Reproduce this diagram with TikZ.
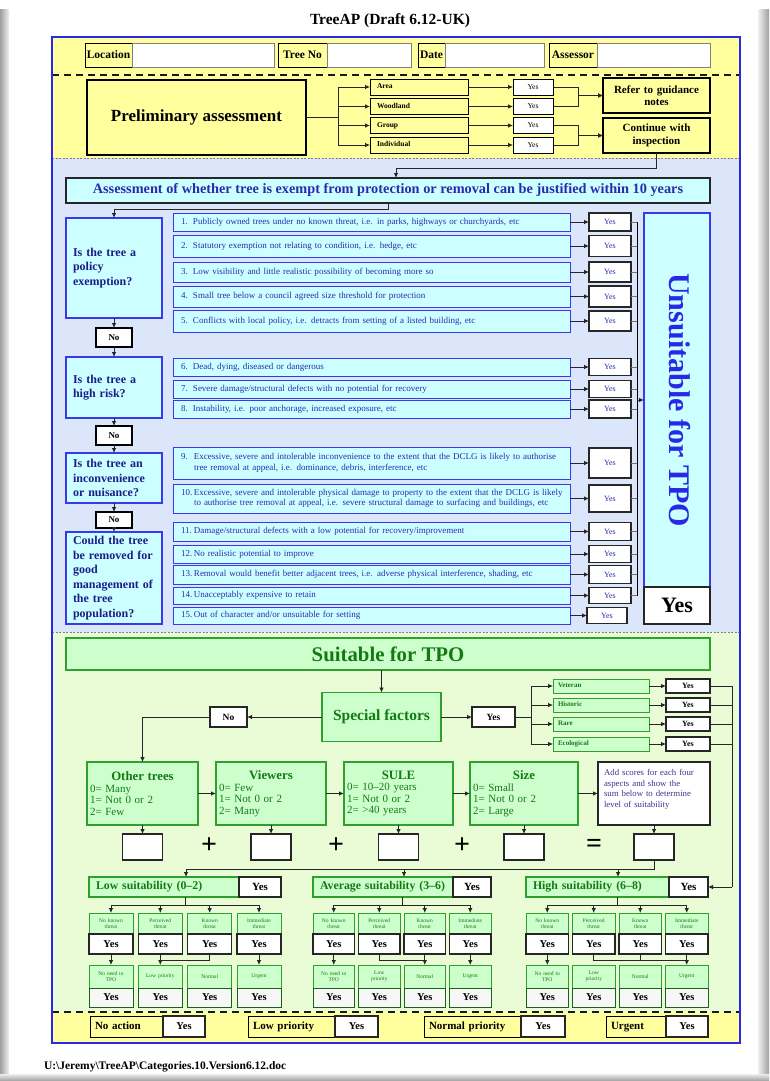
\documentclass[tikz,border=0pt]{standalone}
\usepackage{fontspec}
\setmainfont{Liberation Serif}
\usetikzlibrary{arrows.meta}
\definecolor{paleyellow}{HTML}{FFFF9E}
\definecolor{paleblue}{HTML}{DCE6FA}
\definecolor{palegreen}{HTML}{E9FCD6}
\definecolor{cyanfill}{HTML}{CCFFFF}
\definecolor{greenfill}{HTML}{CCFFCC}
\definecolor{greenedge}{HTML}{2EA02E}
\definecolor{greentext}{HTML}{137A13}
\definecolor{itemedge}{HTML}{3838F0}
\definecolor{itemtext}{HTML}{2A2AB0}
\definecolor{qtext}{HTML}{1C1C8A}
\definecolor{frameblue}{HTML}{2828E6}
\definecolor{notetext}{HTML}{45308F}
\newcommand\setfs[2]{\fontsize{#1}{#2}\selectfont}

\begin{document}
\begin{tikzpicture}[x=1pt,y=-1pt,
  every node/.style={inner sep=0pt,outer sep=0pt},
  link/.style={draw=black!85,line width=0.8pt},
  arr/.style={link,-{Latex[length=5pt,width=4.5pt]}},
  hlabel/.style={draw=black,line width=1pt,fill=paleyellow,minimum height=24pt,text height=8pt,text depth=2.5pt,font=\bfseries\setfs{11.5}{13}},
  hinput/.style={draw=black!50,line width=1pt,fill=white,minimum height=24pt},
  prebox/.style={draw=black,line width=1.2pt,fill=paleyellow},
  catbox/.style={draw=black,line width=1pt,fill=paleyellow,minimum height=16pt,text width=84pt,text height=5.5pt,text depth=1.8pt,inner xsep=7pt,align=left,font=\bfseries\setfs{7.5}{9}},
  pyes/.style={draw=black,line width=1pt,fill=white,minimum width=40pt,minimum height=16pt,font=\setfs{7.5}{9}},
  qbox/.style={draw=itemedge,line width=1.2pt,fill=cyanfill,text width=82pt,inner xsep=7pt,align=left,font=\bfseries\setfs{12}{14.5},text=qtext},
  itembox/.style={draw=itemedge,line width=1pt,fill=cyanfill,text width=381pt,inner xsep=8pt,align=left,font=\setfs{9}{10.5},text=itemtext},
  eyes/.style={draw=black!85,line width=1.1pt,fill=white,minimum width=42pt,font=\setfs{8}{9},text=itemtext},
  nobox/.style={draw=black,line width=1.1pt,fill=white,minimum width=36pt,font=\bfseries\setfs{9}{10}},
  gbox/.style={draw=greenedge,line width=1pt,fill=greenfill,text=greentext},
  wbox/.style={draw=black!85,line width=1.1pt,fill=white},
  scorebox/.style={gbox,line width=1.3pt,minimum height=63pt,inner xsep=3pt,align=left,font=\setfs{11}{11.5}},
  sfbox/.style={gbox,minimum height=14pt,text width=86pt,text height=5pt,text depth=1.6pt,inner xsep=5pt,align=left,font=\bfseries\setfs{7}{8}},
  glabel/.style={gbox,line width=1.2pt,minimum height=20pt,text height=8.5pt,text depth=2.8pt,inner xsep=7pt,align=left,font=\bfseries\setfs{11.8}{13}},
  tbox/.style={gbox,minimum width=#1,text width=#1,minimum height=21pt,align=center,font=\setfs{5.5}{6.5}},
  abox/.style={gbox,minimum width=#1,text width=#1,minimum height=23pt,align=center,font=\setfs{5.5}{6.5}},
  ybox/.style={wbox,minimum width=#1,minimum height=20pt,font=\bfseries\setfs{10.5}{11}},
  zbox/.style={draw=greenedge!60!black,line width=1pt,fill=gray!6,minimum width=#1,minimum height=19pt,font=\bfseries\setfs{10.5}{11}},
  flabel/.style={draw=black,line width=1pt,fill=paleyellow,minimum height=21pt,text height=7.8pt,text depth=2.5pt,inner xsep=5pt,align=left,font=\bfseries\setfs{11}{12}},
  fyes/.style={wbox,minimum height=21pt,text height=7.5pt,text depth=2.2pt,font=\bfseries\setfs{10.5}{11}}
]
\useasboundingbox (0,0) rectangle (769,1081);

% page and its shadow
\fill[white] (0,0) rectangle (769,1081);
\shade[left color=gray!75,right color=gray!12] (0,10) rectangle (9,1081);
\shade[left color=gray!12,right color=gray!75] (758,10) rectangle (769,1081);
\shade[top color=gray!15,bottom color=gray!75] (0,1074) rectangle (769,1081);

\node[font=\bfseries\setfs{15.5}{18}] (title) at (390,21) {TreeAP (Draft 6.12-UK)};

% form sections
\fill[paleyellow] (52,37) rectangle (740,158);
\fill[paleblue] (52,158) rectangle (740,632);
\fill[palegreen] (52,632) rectangle (740,1012);
\fill[paleyellow] (52,1012) rectangle (740,1043);
\draw[gray,line width=0.8pt,dash pattern=on 2pt off 1.5pt] (52,158) -- (740,158);
\draw[gray,line width=0.8pt,dash pattern=on 2pt off 1.5pt] (52,632) -- (740,632);
\draw[black!90,line width=1.8pt,dash pattern=on 7pt off 5pt] (52,75) -- (740,75);
\draw[black!90,line width=1.8pt,dash pattern=on 7pt off 5pt] (52,1012) -- (740,1012);
\draw[frameblue,line width=1.6pt] (52,37) rectangle (740,1043);

% header fields
\node[hlabel,minimum width=47pt] (loc) at (108.5,55.5) {Location};
\node[hinput,minimum width=142pt] (locin) at (203,55.5) {};
\node[hlabel,minimum width=49pt] (tno) at (302.5,55.5) {Tree No};
\node[hinput,minimum width=84pt] (tnoin) at (369,55.5) {};
\node[hlabel,minimum width=27pt] (dat) at (431.5,55.5) {Date};
\node[hinput,minimum width=99pt] (datin) at (494.5,55.5) {};
\node[hlabel,minimum width=48pt] (asr) at (573,55.5) {Assessor};
\node[hinput,minimum width=113pt] (asrin) at (653.5,55.5) {};

% preliminary assessment
\node[prebox,minimum width=219pt,minimum height=75pt,font=\bfseries\setfs{17}{19}] (pre) at (196.5,117.5) {Preliminary assessment};
\node[catbox] (area) at (419,87) {Area};
\node[catbox] (wood) at (419,106.5) {Woodland};
\node[catbox] (group) at (419,125.5) {Group};
\node[catbox] (indiv) at (419,145) {Individual};
\node[pyes] (ya) at (533,87) {Yes};
\node[pyes] (yb) at (533,106.5) {Yes};
\node[pyes] (yc) at (533,125.5) {Yes};
\node[pyes] (yd) at (533,145) {Yes};
\node[prebox,minimum width=107pt,minimum height=35pt,text width=99pt,align=center,font=\bfseries\setfs{11}{12.5}] (refer) at (656.5,95.5) {Refer to guidance\\notes};
\node[prebox,minimum width=107pt,minimum height=35pt,text width=99pt,align=center,font=\bfseries\setfs{11}{12.5}] (cont) at (656.5,135.5) {Continue with\\inspection};

\coordinate (tr) at (338,117.5);
\draw[link] (pre.east) -- (tr);
\foreach \n in {area,wood,group,indiv} \draw[arr] (tr) |- (\n.west);
\foreach \c/\y in {area/ya,wood/yb,group/yc,indiv/yd} \draw[arr] (\c.east) -- (\y.west);
\coordinate (mr) at (578,100);
\draw[arr] (ya.east) -| (mr |- refer.west) -- (refer.west);
\draw[arr] (yb.east) -| (mr |- refer.west) -- (refer.west);
\draw[arr] (yc.east) -| (mr |- cont.west) -- (cont.west);
\draw[arr] (yd.east) -| (mr |- cont.west) -- (cont.west);

% exemption assessment
\node[draw=black!85,line width=1.3pt,fill=cyanfill,minimum width=644pt,minimum height=25pt,font=\bfseries\setfs{14.3}{16},text=itemtext] (assess) at (388,190.5) {Assessment of whether tree is exempt from protection or removal can be justified within 10 years};
\coordinate (k1) at (396,168);
\draw[arr] (cont.south) |- (k1) -- (k1 |- assess.north);

\node[qbox,minimum height=100pt] (q1) at (114,268) {Is the tree a\\policy\\exemption?};
\node[qbox,minimum height=61pt] (q2) at (114,387.5) {Is the tree a\\high risk?};
\node[qbox,minimum height=50pt] (q3) at (114,478) {Is the tree an\\inconvenience\\or nuisance?};
\node[qbox,minimum height=92pt] (q4) at (114,578) {Could the tree\\be removed for\\good\\management of\\the tree\\population?};
\node[nobox,minimum height=19pt] (no1) at (114,337.5) {No};
\node[nobox,minimum height=19pt] (no2) at (114,435.5) {No};
\node[nobox,minimum height=16pt] (no3) at (114,520) {No};
\coordinate (k2) at (388,209);
\draw[arr] (assess.south) -- (k2) -| (q1.north);
\draw[arr] (q1.south) -- (no1.north);
\draw[arr] (no1.south) -- (q2.north);
\draw[arr] (q2.south) -- (no2.north);
\draw[arr] (no2.south) -- (q3.north);
\draw[arr] (q3.south) -- (no3.north);
\draw[arr] (no3.south) -- (q4.north);

\node[itembox,minimum height=18pt] (i1) at (371.5,222) {\makebox[12pt][l]{1.}Publicly owned trees under no known threat, i.e. in parks, highways or churchyards, etc};
\node[itembox,minimum height=22pt] (i2) at (371.5,246) {\makebox[12pt][l]{2.}Statutory exemption not relating to condition, i.e. hedge, etc};
\node[itembox,minimum height=20pt] (i3) at (371.5,272) {\makebox[12pt][l]{3.}Low visibility and little realistic possibility of becoming more so};
\node[itembox,minimum height=21pt] (i4) at (371.5,296.5) {\makebox[12pt][l]{4.}Small tree below a council agreed size threshold for protection};
\node[itembox,minimum height=22pt] (i5) at (371.5,321) {\makebox[12pt][l]{5.}Conflicts with local policy, i.e. detracts from setting of a listed building, etc};
\node[itembox,minimum height=18pt] (i6) at (371.5,367) {\makebox[12pt][l]{6.}Dead, dying, diseased or dangerous};
\node[itembox,minimum height=18pt] (i7) at (371.5,389) {\makebox[12pt][l]{7.}Severe damage/structural defects with no potential for recovery};
\node[itembox,minimum height=18pt] (i8) at (371.5,409) {\makebox[12pt][l]{8.}Instability, i.e. poor anchorage, increased exposure, etc};
\node[itembox,minimum height=32pt] (i9) at (371.5,463) {\begin{tabular}{@{}p{13pt}@{}l@{}}9. & Excessive, severe and intolerable inconvenience to the extent that the DCLG is likely to authorise\\ & tree removal at appeal, i.e. dominance, debris, interference, etc\end{tabular}};
\node[itembox,minimum height=29pt] (i10) at (371.5,498.5) {\begin{tabular}{@{}p{13pt}@{}l@{}}10. & Excessive, severe and intolerable physical damage to property to the extent that the DCLG is likely\\ & to authorise tree removal at appeal, i.e. severe structural damage to surfacing and buildings, etc\end{tabular}};
\node[itembox,minimum height=19pt] (i11) at (371.5,531.5) {\makebox[13pt][l]{11.}Damage/structural defects with a low potential for recovery/improvement};
\node[itembox,minimum height=18pt] (i12) at (371.5,554) {\makebox[13pt][l]{12.}No realistic potential to improve};
\node[itembox,minimum height=19pt] (i13) at (371.5,574.5) {\makebox[13pt][l]{13.}Removal would benefit better adjacent trees, i.e. adverse physical interference, shading, etc};
\node[itembox,minimum height=17pt] (i14) at (371.5,595.5) {\makebox[13pt][l]{14.}Unacceptably expensive to retain};
\node[itembox,minimum height=17pt] (i15) at (371.5,615.5) {\makebox[13pt][l]{15.}Out of character and/or unsuitable for setting};

\foreach \n/\y/\h in {1/222/18,2/246/21,3/272/20,4/296.5/21,5/321/20,6/367/17,7/389/17,8/409/18,9/463/30,10/498.5/27,11/531.5/18,12/554/17,13/574.5/18,14/595.5/16}{
  \node[eyes,minimum height=\h pt] (e\n) at (610,\y) {Yes};
  \draw[arr] (i\n.east) -- (e\n.west);
}
\node[eyes,minimum width=40pt,minimum height=16pt] (e15) at (607,615.5) {Yes};
\draw[arr] (i15.east) -- (e15.west);

\node[draw=itemedge,line width=1.2pt,fill=cyanfill,minimum width=66pt,minimum height=374pt] (uns) at (677,400) {};
\node[rotate=-90,font=\bfseries\setfs{30}{32},text=frameblue] (unstext) at (680,400) {Unsuitable for TPO};
\node[draw=black!85,line width=1.2pt,fill=white,minimum width=66pt,minimum height=37pt,font=\bfseries\setfs{22}{24}] (unsyes) at (677,605.5) {Yes};

\coordinate (cu) at (637,400);
\foreach \n in {1,...,14} \draw[draw=black!55,line width=0.8pt] (e\n.east) -- (e\n.east -| cu);
\draw[draw=black,line width=1pt] (e1.east -| cu) -- (e14.east -| cu);
\draw[arr] (cu) -- (cu -| uns.west);

% suitable for TPO
\node[gbox,line width=1.3pt,minimum width=644pt,minimum height=32pt,font=\bfseries\setfs{20.8}{22}] (suit) at (388,654) {Suitable for TPO};
\node[gbox,line width=1.3pt,minimum width=119pt,minimum height=49pt,font=\bfseries\setfs{15.5}{17}] (special) at (381.5,717) {Special factors};
\node[wbox,minimum width=37pt,minimum height=20pt,font=\bfseries\setfs{9.5}{10}] (sfno) at (228.5,717) {No};
\node[wbox,minimum width=43pt,minimum height=20pt,font=\bfseries\setfs{9.5}{10}] (sfyes) at (493.5,717) {Yes};
\draw[arr] (special.north |- suit.south) -- (special.north);
\draw[arr] (special.west) -- (sfno.east);
\draw[arr] (special.east) -- (sfyes.west);

\node[sfbox] (vet) at (601,686) {Veteran};
\node[sfbox] (hist) at (601,705) {Historic};
\node[sfbox] (rare) at (601,724) {Rare};
\node[sfbox] (eco) at (601,744) {Ecological};
\foreach \n/\y in {1/686,2/705,3/724,4/744}
  \node[wbox,minimum width=44pt,minimum height=14pt,font=\bfseries\setfs{8}{9}] (sy\n) at (688,\y) {Yes};
\coordinate (st) at (531,717);
\draw[link] (sfyes.east) -- (st);
\foreach \n in {vet,hist,rare,eco} \draw[arr] (st) |- (\n.west);
\foreach \a/\b in {vet/sy1,hist/sy2,rare/sy3,eco/sy4} \draw[arr] (\a.east) -- (\b.west);

% scoring
\node[scorebox,text width=105pt] (other) at (142.5,793.5) {\makebox[\hsize]{\bfseries\setfs{12.8}{14}Other trees}\\0= Many\\1= Not 0 or 2\\2= Few};
\node[scorebox,text width=104pt] (viewers) at (271,793.5) {\makebox[\hsize]{\bfseries\setfs{12.8}{14}Viewers}\\0= Few\\1= Not 0 or 2\\2= Many};
\node[scorebox,text width=103pt] (sule) at (398.5,793.5) {\makebox[\hsize]{\bfseries\setfs{12.8}{14}SULE}\\0= 10--20 years\\1= Not 0 or 2\\2= >40 years};
\node[scorebox,text width=102pt] (size) at (524,793.5) {\makebox[\hsize]{\bfseries\setfs{12.8}{14}Size}\\0= Small\\1= Not 0 or 2\\2= Large};
\node[wbox,line width=1.3pt,minimum height=63pt,text width=100pt,inner xsep=6pt,align=left,font=\setfs{8.8}{10.5},text=notetext] (addn) at (654,793.5) {Add scores for each four\\aspects and show the\\sum below to determine\\level of suitability\\\mbox{}};
\draw[arr] (sfno.west) -| (other.north);
\draw[arr] (other.east) -- (viewers.west);
\draw[arr] (viewers.east) -- (sule.west);
\draw[arr] (sule.east) -- (size.west);
\draw[arr] (size.east) -- (addn.west);

\foreach \n/\x in {1/142.5,2/271,3/398.5,4/524,5/654}
  \node[wbox,line width=1.3pt,minimum width=40pt,minimum height=26pt] (sc\n) at (\x,847) {};
\draw[arr] (other.south) -- (sc1.north);
\draw[arr] (viewers.south) -- (sc2.north);
\draw[arr] (sule.south) -- (sc3.north);
\draw[arr] (size.south) -- (sc4.north);
\draw[arr] (addn.south) -- (sc5.north);
\node[font=\bfseries\setfs{28}{30}] (plus1) at (209,846) {+};
\node[font=\bfseries\setfs{28}{30}] (plus2) at (336,846) {+};
\node[font=\bfseries\setfs{28}{30}] (plus3) at (462,846) {+};
\node[font=\bfseries\setfs{28}{30}] (equal) at (594,846) {=};

% suitability levels
\node[glabel,minimum width=150pt,text width=136pt] (Ll) at (164,887) {Low suitability (0--2)};
\node[wbox,minimum width=42pt,minimum height=20pt,font=\bfseries\setfs{11}{12}] (Lyes) at (260,887) {Yes};
\node[glabel,minimum width=140pt,text width=126pt] (Al) at (383,887) {Average suitability (3--6)};
\node[wbox,minimum width=38pt,minimum height=20pt,font=\bfseries\setfs{11}{12}] (Ayes) at (472,887) {Yes};
\node[glabel,minimum width=143pt,text width=129pt] (Hl) at (597.5,887) {High suitability (6--8)};
\node[wbox,minimum width=39pt,minimum height=20pt,font=\bfseries\setfs{11}{12}] (Hyes) at (688.5,887) {Yes};

\coordinate (busL) at (186,869);
\coordinate (busA) at (404,869);
\coordinate (busH) at (618,869);
\draw[link] (sc5.south) |- (busL);
\draw[arr] (busL) -- (busL |- Ll.north);
\draw[arr] (busA) -- (busA |- Al.north);
\draw[arr] (busH) -- (busH |- Hl.north);

\coordinate (rt) at (732,887);
\foreach \n in {1,...,4} \draw[link] (sy\n.east) -- (sy\n.east -| rt);
\draw[link] (sy1.east -| rt) -- (rt);
\draw[arr] (rt) -- (Hyes.east);

\foreach \k/\x/\t/\a in {1/111/{No known\\threat}/{No need to\\TPO},2/160.3/{Perceived\\threat}/{Low priority},3/209.7/{Known\\threat}/{Normal},4/259/{Immediate\\threat}/{Urgent}}{
  \node[tbox=44pt] (Lt\k) at (\x,923.5) {\t};
  \node[ybox=44pt] (Ly\k) at (\x,944) {Yes};
  \node[abox=44pt] (La\k) at (\x,976.5) {\a};
  \node[zbox=44pt] (Lz\k) at (\x,997.5) {Yes};
}
\foreach \k/\x/\t/\a in {1/333.75/{No known\\threat}/{No need to\\TPO},2/379.25/{Perceived\\threat}/{Low\\priority},3/424.75/{Known\\threat}/{Normal},4/470.25/{Immediate\\threat}/{Urgent}}{
  \node[tbox=41.5pt] (At\k) at (\x,923.5) {\t};
  \node[ybox=41.5pt] (Ay\k) at (\x,944) {Yes};
  \node[abox=41.5pt] (Aa\k) at (\x,976.5) {\a};
  \node[zbox=41.5pt] (Az\k) at (\x,997.5) {Yes};
}
\foreach \k/\x/\t/\a in {1/547.25/{No known\\threat}/{No need to\\TPO},2/593.75/{Perceived\\threat}/{Low\\priority},3/640.25/{Known\\threat}/{Normal},4/686.75/{Immediate\\threat}/{Urgent}}{
  \node[tbox=42.5pt] (Ht\k) at (\x,923.5) {\t};
  \node[ybox=42.5pt] (Hy\k) at (\x,944) {Yes};
  \node[abox=42.5pt] (Ha\k) at (\x,976.5) {\a};
  \node[zbox=42.5pt] (Hz\k) at (\x,997.5) {Yes};
}

\coordinate (gL) at (185,905);
\coordinate (gA) at (402,905);
\coordinate (gH) at (617,905);
\foreach \g in {L,A,H}{
  \draw[link] (g\g |- \g l.south) -- (g\g);
  \draw[link] (\g t1.north |- g\g) -- (\g t4.north |- g\g);
  \foreach \k in {1,...,4} \draw[arr] (\g t\k.north |- g\g) -- (\g t\k.north);
}
\coordinate (mL) at (160.3,960);
\coordinate (mA) at (424.75,960);
\coordinate (mH) at (686.75,960);
\draw[arr] (Ly1.south) -- (La1.north);
\draw[arr] (Ly2.south) -- (La2.north);
\draw[link] (Ly3.south) |- (mL);
\draw[arr] (Ly4.south) -- (La4.north);
\draw[arr] (Ay1.south) -- (Aa1.north);
\draw[link] (Ay2.south) |- (mA);
\draw[arr] (Ay3.south) -- (Aa3.north);
\draw[arr] (Ay4.south) -- (Aa4.north);
\draw[arr] (Hy1.south) -- (Ha1.north);
\draw[link] (Hy2.south) |- (mH);
\draw[link] (Hy3.south) |- (mH);
\draw[arr] (Hy4.south) -- (Ha4.north);

% outcome row
\node[flabel,text width=63pt] (fna) at (126.5,1026.5) {No action};
\node[fyes,minimum width=42pt] (fnay) at (184,1026.5) {Yes};
\node[flabel,text width=77pt] (flp) at (291.5,1026.5) {Low priority};
\node[fyes,minimum width=43pt] (flpy) at (356.5,1026.5) {Yes};
\node[flabel,text width=87pt] (fnp) at (472.5,1026.5) {Normal priority};
\node[fyes,minimum width=44pt] (fnpy) at (543,1026.5) {Yes};
\node[flabel,text width=50pt] (fug) at (636,1026.5) {Urgent};
\node[fyes,minimum width=42pt] (fugy) at (687,1026.5) {Yes};

\node[anchor=west,font=\bfseries\setfs{11.5}{13}] (path) at (44,1067) {U:\textbackslash Jeremy\textbackslash TreeAP\textbackslash Categories.10.Version6.12.doc};
\end{tikzpicture}
\end{document}
